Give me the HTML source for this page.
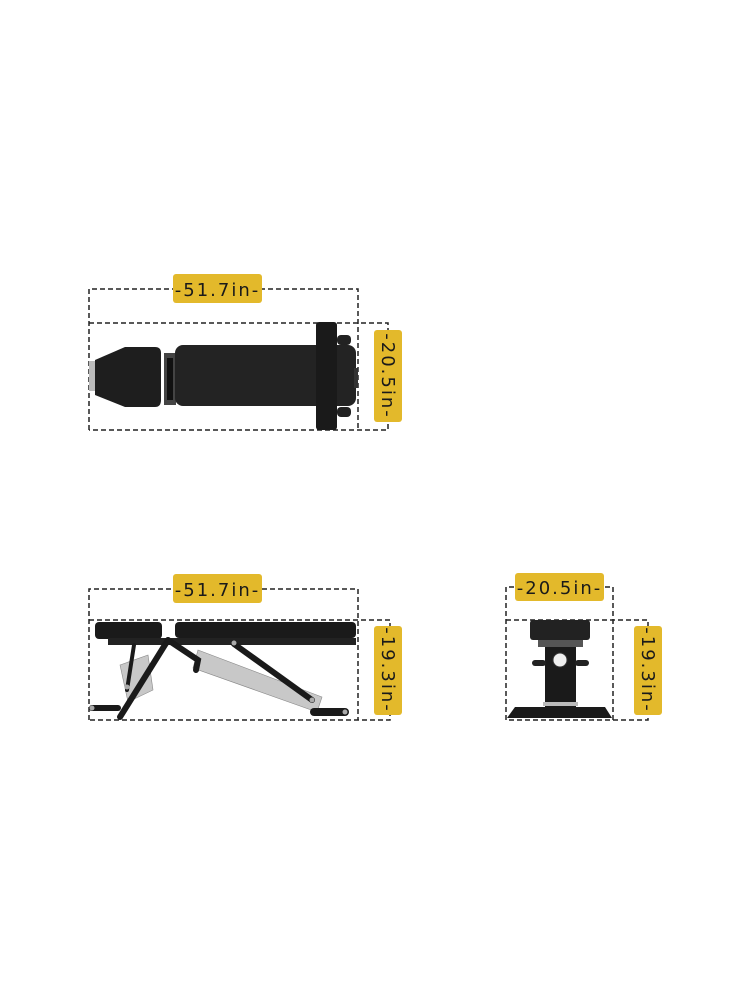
<!DOCTYPE html>
<html><head><meta charset="utf-8"><style>
html,body{margin:0;padding:0;background:#fff;}
svg{display:block;}
text{font-family:"DejaVu Sans","Liberation Sans",sans-serif;fill:#1a1a1a;}
</style></head><body>
<svg width="750" height="1000" viewBox="0 0 750 1000" xmlns="http://www.w3.org/2000/svg">
<g fill="none" stroke="#222" stroke-width="1.5" stroke-dasharray="5,3">
<path d="M89,430 V289 H358 V430"/>
<path d="M89,323 H388 V430 H89"/>
<path d="M89,720 V589 H358 V720"/>
<path d="M89,620 H390 V720 H89"/>
<path d="M506,720 V587 H613 V720"/>
<path d="M506,620 H648 V720 H506"/>
</g>

<!-- TOP VIEW bench -->
<rect x="89" y="361" width="7" height="30" fill="#bbb"/>
<path d="M95,360 L125,347 H155 Q161,347 161,353 V400 Q161,407 155,407 H125 L95,395 Z" fill="#1e1e1e"/>
<rect x="164" y="353" width="12" height="52" fill="#444"/>
<rect x="167" y="358" width="6" height="42" fill="#111"/>
<rect x="175" y="345" width="181" height="61" rx="8" fill="#232323"/>
<rect x="316" y="322" width="21" height="108" rx="3" fill="#1a1a1a"/>
<rect x="337" y="335" width="14" height="10" rx="4" fill="#222"/>
<rect x="337" y="407" width="14" height="10" rx="4" fill="#222"/>
<rect x="354" y="368" width="4" height="20" fill="#333"/>

<!-- SIDE VIEW bench -->
<rect x="95" y="622" width="67" height="17" rx="4" fill="#1a1a1a"/>
<rect x="175" y="622" width="181" height="16" rx="4" fill="#1a1a1a"/>
<rect x="108" y="638" width="248" height="7" fill="#222"/>
<polygon points="120,665 148,655 153,690 128,702" fill="#c8c8c8" stroke="#888" stroke-width="0.6"/>
<polygon points="198,650 322,697 317,712 193,668" fill="#c8c8c8" stroke="#888" stroke-width="0.6"/>
<g stroke="#1a1a1a" stroke-linecap="round" fill="none">
<path d="M168,640 L120,717" stroke-width="6"/>
<path d="M168,640 L198,660 L196,670" stroke-width="6"/>
<path d="M234,644 L312,700" stroke-width="6"/>
<path d="M134,645 L127,690" stroke-width="4"/>
<path d="M92,708 H118" stroke-width="6"/>
<path d="M314,712 H345" stroke-width="8"/>
</g>
<g fill="#aaa"><circle cx="127" cy="687" r="2.5"/><circle cx="312" cy="700" r="2.5"/><circle cx="234" cy="643" r="2.5"/><circle cx="345" cy="712" r="2.5"/><circle cx="92" cy="708" r="2.5"/></g>

<!-- FRONT VIEW bench -->
<rect x="530" y="620" width="60" height="20" rx="3" fill="#222"/>
<rect x="538" y="640" width="45" height="7" fill="#555"/>
<rect x="545" y="647" width="31" height="60" fill="#1a1a1a"/>
<rect x="532" y="660" width="14" height="6" rx="3" fill="#222"/>
<rect x="575" y="660" width="14" height="6" rx="3" fill="#222"/>
<circle cx="560" cy="660" r="7" fill="#eee" stroke="#333"/>
<rect x="543" y="702" width="35" height="4" fill="#bbb"/>
<path d="M507,718 L515,707 H605 L612,718 Z" fill="#1a1a1a"/>

<!-- LABELS -->
<g fill="#e3b92b">
<rect x="173" y="274" width="89" height="29" rx="3"/>
<rect x="374" y="330" width="28" height="92" rx="3"/>
<rect x="173" y="574" width="89" height="29" rx="3"/>
<rect x="374" y="626" width="28" height="89" rx="3"/>
<rect x="515" y="573" width="89" height="28" rx="3"/>
<rect x="634" y="626" width="28" height="89" rx="3"/>
</g>
<g font-size="18" text-anchor="middle" letter-spacing="2">
<text x="217.5" y="296">-51.7in-</text>
<text x="217.5" y="596">-51.7in-</text>
<text x="559.5" y="594">-20.5in-</text>
<text transform="translate(382,376) rotate(90)">-20.5in-</text>
<text transform="translate(382,670) rotate(90)">-19.3in-</text>
<text transform="translate(642,670) rotate(90)">-19.3in-</text>
</g>
</svg>
</body></html>
